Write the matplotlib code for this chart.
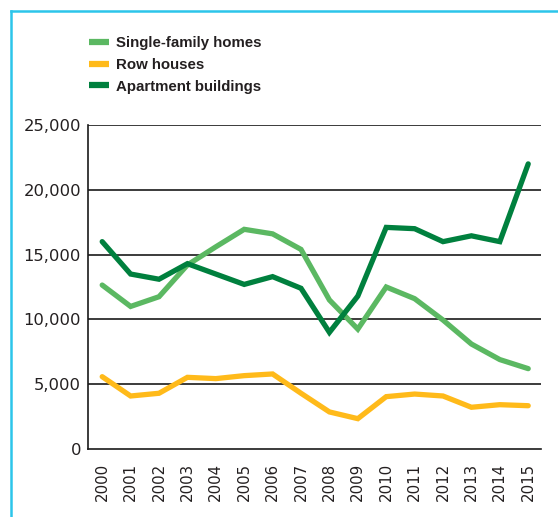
import matplotlib
matplotlib.use("Agg")
import matplotlib.pyplot as plt
from matplotlib.lines import Line2D

# data
years = list(range(2000, 2016))
single_family = [12650, 11000, 11750, 14200, 15600, 16950, 16600, 15400,
                 11500, 9250, 12500, 11600, 9950, 8100, 6900, 6200]
row_houses = [5580, 4090, 4300, 5530, 5430, 5660, 5790, 4300,
              2860, 2340, 4040, 4240, 4090, 3220, 3420, 3340]
apartments = [16000, 13500, 13100, 14300, 13500, 12700, 13300, 12400,
              9000, 11800, 17100, 17000, 16000, 16450, 16000, 22000]
yticks = [0, 5000, 10000, 15000, 20000, 25000]

c_single = "#5bb862"
c_row = "#ffba1a"
c_apt = "#00803e"
c_text = "#231f20"

W, H = 558, 517
fig = plt.figure(figsize=(W / 100, H / 100), dpi=100)
ax = fig.add_axes([88 / W, 1 - 449 / H, (541 - 88) / W, (449 - 125) / H])

lw = 3.8
ax.plot(years, single_family, color=c_single, lw=lw, solid_joinstyle="miter",
        solid_capstyle="round", label="Single-family homes", zorder=3)
ax.plot(years, row_houses, color=c_row, lw=lw, solid_joinstyle="miter",
        solid_capstyle="round", label="Row houses", zorder=3)
ax.plot(years, apartments, color=c_apt, lw=lw, solid_joinstyle="miter",
        solid_capstyle="round", label="Apartment buildings", zorder=3)

ax.set_xlim(1999.5, 2015.45)
ax.set_ylim(0, 25000)
ax.set_yticks(yticks)
ax.set_yticklabels([f"{v:,}" for v in yticks], family="DejaVu Sans",
                   fontsize=11.8, color=c_text)
ax.set_xticks(years)
ax.set_xticklabels([str(y) for y in years], rotation=90,
                   family=["Liberation Sans Narrow", "DejaVu Sans"],
                   fontsize=10.8, color=c_text)
ax.tick_params(axis="y", length=0, pad=5)
ax.tick_params(axis="x", length=0, pad=10)

for v in yticks[1:]:
    ax.axhline(v, color="#1a1a1a", lw=1.2, zorder=1)
for s in ["top", "right"]:
    ax.spines[s].set_visible(False)
ax.spines["left"].set_color("#1a1a1a")
ax.spines["bottom"].set_color("#1a1a1a")
ax.spines["left"].set_linewidth(1.2)
ax.spines["bottom"].set_linewidth(1.2)

leg = fig.legend(loc="upper left", bbox_to_anchor=(89 / W, 1 - 36 / H),
                 frameon=False, borderpad=0, borderaxespad=0,
                 handlelength=1.3, handletextpad=0.5, labelspacing=0.52,
                 prop={"family": "Liberation Sans", "weight": "bold", "size": 10.8})
for t in leg.get_texts():
    t.set_color(c_text)
for h in leg.legend_handles:
    h.set_linewidth(4.5)
    h.set_solid_capstyle("butt")

# cyan frame at top-left
cyan = "#2cc5ea"
fig.add_artist(Line2D([11 / W, 11 / W], [0, 1 - 11 / H], color=cyan, lw=1.8))
fig.add_artist(Line2D([11 / W, 557 / W], [1 - 11 / H, 1 - 11 / H], color=cyan, lw=1.8))

fig.savefig("out.png", dpi=100, facecolor="white")
